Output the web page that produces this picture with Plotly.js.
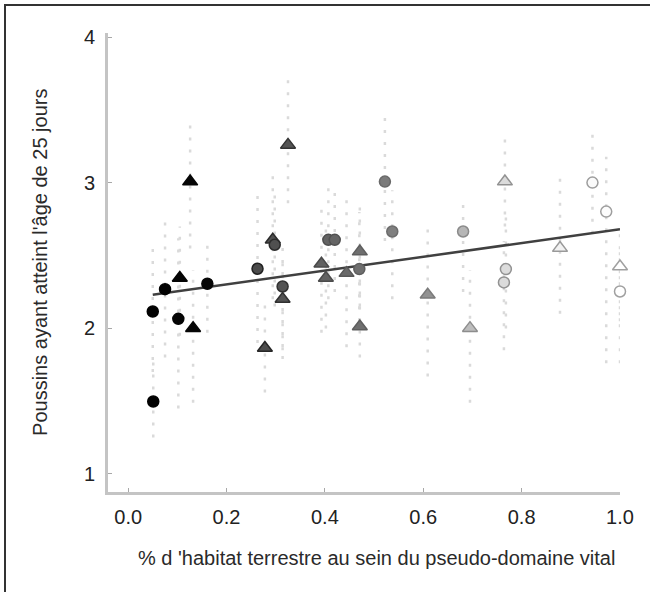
<!DOCTYPE html>
<html>
<head>
<meta charset="utf-8">
<script src="https://cdn.plot.ly/plotly-3.0.1.min.js"></script>
<style>
  html, body { margin:0; padding:0; background:#fff; overflow:hidden; }
  #wrap { position:relative; width:650px; height:592px; }
  #plot { position:absolute; left:0; top:0; width:650px; height:592px; }
  #frame { position:absolute; left:4px; top:4px; width:700px; height:700px;
           border:2px solid #333; pointer-events:none; }
</style>
</head>
<body>
<div id="wrap"><div id="plot"></div><div id="frame"></div></div>
<script>
// % d'habitat terrestre (x)
const pctHabitat = [0.050,0.051,0.075,0.102,0.105,0.126,0.132,0.161,0.263,0.325,
                    0.294,0.298,0.278,0.314,0.314,0.407,0.420,0.393,0.402,0.444,
                    0.471,0.470,0.471,0.522,0.537,0.609,0.681,0.695,0.766,0.768,
                    0.764,0.878,0.944,0.972,1.000,1.000];
// Poussins ayant atteint l'âge de 25 jours (y)
const poussins   = [2.116,1.498,2.270,2.066,2.346,3.009,2.002,2.307,2.410,3.261,
                    2.609,2.575,1.865,2.288,2.202,2.609,2.609,2.444,2.346,2.380,
                    2.528,2.408,2.013,3.009,2.666,2.231,2.666,2.002,3.009,2.408,
                    2.316,2.552,3.002,2.803,2.425,2.254];
const ciUpper    = [2.55,1.80,2.77,2.62,2.70,3.42,2.40,2.63,2.97,3.76,
                    3.07,2.95,2.20,2.60,2.50,3.02,2.95,2.85,2.70,2.88,
                    2.88,2.80,2.35,3.48,2.95,2.74,2.90,2.40,3.32,2.80,
                    2.60,3.04,3.34,3.18,2.70,2.55];
const ciLower    = [1.70,1.25,1.80,1.45,1.95,2.55,1.49,1.97,1.90,2.86,
                    2.20,2.15,1.56,1.79,1.85,2.20,2.25,1.97,2.00,1.87,
                    2.15,2.05,1.80,2.60,2.20,1.67,2.25,1.49,2.70,2.00,
                    1.85,2.10,2.65,1.76,2.05,1.76];
const forme      = ["c","c","c","c","t","t","t","c","c","t",
                    "t","c","t","c","t","c","c","t","t","t",
                    "t","c","t","c","c","t","c","t","t","c",
                    "c","t","c","c","t","c"];
// droite de régression
const fitX = [0.05, 1.0];
const fitY = [2.231, 2.682];

const xTicks = [0, 0.2, 0.4, 0.6, 0.8, 1.0];
const yTicks = [1, 2, 3, 4];

// error bars as dotted segments
const ebX = [], ebY = [];
pctHabitat.forEach((x, i) => { ebX.push(x, x, null); ebY.push(ciLower[i], ciUpper[i], null); });

const fillScale = [[0,'#000000'],[0.18,'#080808'],[0.26,'#4a4a4a'],[0.45,'#6a6a6a'],[0.6,'#8e8e8e'],[0.75,'#d8d8d8'],[0.9,'#f6f6f6'],[1,'#ffffff']];
const lineScale = [[0,'#000000'],[0.18,'#080808'],[0.45,'#5a5a5a'],[0.7,'#8e8e8e'],[1,'#a0a0a0']];

const traces = [
  { x: ebX, y: ebY, mode: 'lines', type: 'scatter', hoverinfo: 'skip',
    line: { color: '#dadada', width: 2.5, dash: '3px,9px' }, cliponaxis: false },
  { x: fitX, y: fitY, mode: 'lines', type: 'scatter',
    line: { color: '#404040', width: 2.5 }, cliponaxis: false },
  { x: pctHabitat, y: poussins, mode: 'markers', type: 'scatter', cliponaxis: false,
    marker: {
      opacity: 1,
      symbol: forme.map(f => f === 't' ? 'triangle-up' : 'circle'),
      size: forme.map(f => f === 't' ? 13 : 11),
      color: pctHabitat, colorscale: fillScale, cmin: 0, cmax: 1, showscale: false,
      line: { width: 1.5, color: pctHabitat, colorscale: lineScale, cmin: 0, cmax: 1 }
    } }
];

const axisFont = { family: 'Arial, "Liberation Sans", sans-serif', size: 20, color: '#222' };

const layout = {
  width: 650, height: 592,
  margin: { l: 108, r: 30, t: 33, b: 100 },
  paper_bgcolor: '#fff', plot_bgcolor: '#fff',
  showlegend: false,
  font: axisFont,
  xaxis: {
    range: [-0.041, 1.0], tickvals: xTicks, tickformat: '.1f',
    showgrid: false, zeroline: false, showline: true, linecolor: '#c4c4c4', linewidth: 3,
    ticks: 'inside', ticklen: 4, tickwidth: 1, tickcolor: '#a8a8a8',
    tickfont: axisFont, ticklabelstandoff: 5
  },
  yaxis: {
    range: [0.876, 4.03], tickvals: yTicks,
    showgrid: false, zeroline: false, showline: true, linecolor: '#c4c4c4', linewidth: 3,
    ticks: 'inside', ticklen: 4, tickwidth: 1, tickcolor: '#a8a8a8',
    tickfont: axisFont, ticklabelstandoff: 6
  },
  annotations: [
    { text: "% d 'habitat terrestre au sein du pseudo-domaine vital", xref: 'paper', yref: 'paper',
      x: 0.525, y: -0.1438, xanchor: 'center', yanchor: 'middle', showarrow: false,
      font: { family: 'Arial, "Liberation Sans", sans-serif', size: 20, color: '#2a2a2a' } },
    { text: "Poussins ayant atteint l'âge de 25 jours", xref: 'paper', yref: 'paper',
      x: -0.133, y: 0.501, xanchor: 'center', yanchor: 'middle', textangle: -90, showarrow: false,
      font: { family: 'Arial, "Liberation Sans", sans-serif', size: 20, color: '#2a2a2a' } }
  ]
};

Plotly.newPlot('plot', traces, layout, { displayModeBar: false, staticPlot: true });
</script>
</body>
</html>
